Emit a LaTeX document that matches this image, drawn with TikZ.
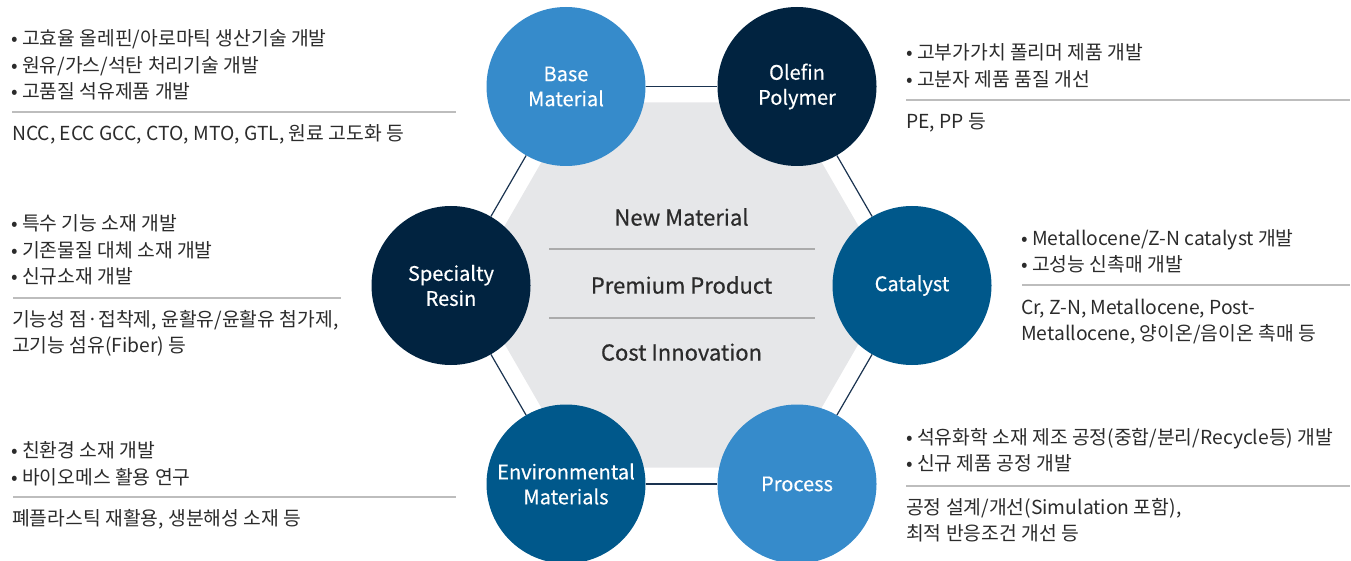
\documentclass[tikz,border=0pt]{standalone}
\usepackage{fontspec}
\setmainfont{Noto Sans CJK KR}
\newfontfamily\medfont[FakeBold=0.6]{Noto Sans CJK KR}
\newfontfamily\circfont[FakeBold=0.4]{Noto Sans CJK KR}
\definecolor{lblue}{HTML}{368BCB}
\definecolor{navy}{HTML}{012340}
\definecolor{mblue}{HTML}{00588B}
\definecolor{hexgray}{HTML}{E6E7E9}
\definecolor{hexline}{HTML}{1A3350}
\definecolor{sepgray}{HTML}{ABABAB}
\definecolor{divgray}{HTML}{BDBDBD}
\definecolor{txt}{HTML}{2B2B2B}
\begin{document}
\begin{tikzpicture}[x=1pt,y=-1pt,
  circ/.style={circle,minimum size=159pt,inner sep=0pt,text=white,align=center,font=\circfont\fontsize{20}{25}\selectfont},
  hexedge/.style={draw=hexline,line width=1.2pt},
  sepline/.style={draw=sepgray,line width=1.5pt},
  divline/.style={draw=divgray,line width=1.2pt},
  side/.style={anchor=west,inner sep=0pt,text=txt,font=\fontsize{19.3}{22}\selectfont,text height=14.4pt,text depth=0pt},
  core/.style={inner sep=0pt,text=txt,font=\medfont\fontsize{22}{25}\selectfont,text height=17.2pt,text depth=0pt}]
\useasboundingbox (0,0) rectangle (1351,561);
% gray hexagon
\fill[hexgray] (892.5,285) -- (787,102.3) -- (576,102.3) -- (470.5,285) -- (576,467.7) -- (787,467.7) -- cycle;
% circles
\node[circ,fill=lblue] (base) at (566,86.5) {Base\\Material};
\node[circ,fill=navy] (olefin) at (797,86.5) {Olefin\\Polymer};
\node[circ,fill=navy] (spec) at (451,285.5) {Specialty\\Resin};
\node[circ,fill=mblue] (cat) at (912,285.5) {Catalyst};
\node[circ,fill=mblue] (env) at (566,484) {Environmental\\Materials};
\node[circ,fill=lblue] (proc) at (797,484) {Process};
% hexagon outline connectors
\draw[hexedge] (base) -- (olefin);
\draw[hexedge] (olefin) -- (cat);
\draw[hexedge] (cat) -- (proc);
\draw[hexedge] (proc) -- (env);
\draw[hexedge] (env) -- (spec);
\draw[hexedge] (spec) -- (base);
% center texts
\node[core] (nm) at (681.5,217) {New Material};
\node[core] (pp) at (681.5,285) {Premium Product};
\node[core] (ci) at (681.5,352) {Cost Innovation};
\draw[sepline] (549,249) -- (815,249);
\draw[sepline] (549,318) -- (815,318);
% block 1
\node[side] (a1) at (11,38) {• 고효율 올레핀/아로마틱 생산기술 개발};
\node[side] (a2) at (11,65) {• 원유/가스/석탄 처리기술 개발};
\node[side] (a3) at (11,91) {• 고품질 석유제품 개발};
\draw[divline] (12,112) -- (456,112);
\node[side] (a4) at (12,133) {NCC, ECC GCC, CTO, MTO, GTL, 원료 고도화 등};
% block 2
\node[side] (b1) at (906,52) {• 고부가가치 폴리머 제품 개발};
\node[side] (b2) at (906,79) {• 고분자 제품 품질 개선};
\draw[divline] (906,100) -- (1350,100);
\node[side] (b3) at (906,121) {PE, PP 등};
% block 3
\node[side] (c1) at (11,223) {• 특수 기능 소재 개발};
\node[side] (c2) at (11,250) {• 기존물질 대체 소재 개발};
\node[side] (c3) at (11,276) {• 신규소재 개발};
\draw[divline] (13,298) -- (341,298);
\node[side] (c4) at (12,319) {기능성 점·접착제, 윤활유/윤활유 첨가제,};
\node[side] (c5) at (12,345) {고기능 섬유(Fiber) 등};
% block 4
\node[side] (d1) at (1021,238) {• Metallocene/Z-N catalyst 개발};
\node[side] (d2) at (1021,264) {• 고성능 신촉매 개발};
\draw[divline] (1022,285) -- (1350,285);
\node[side] (d3) at (1021,307) {Cr, Z-N, Metallocene, Post-};
\node[side] (d4) at (1021,333) {Metallocene, 양이온/음이온 촉매 등};
% block 5
\node[side] (e1) at (11,450) {• 친환경 소재 개발};
\node[side] (e2) at (11,477) {• 바이오메스 활용 연구};
\draw[divline] (13,497) -- (456,497);
\node[side] (e3) at (12,518) {폐플라스틱 재활용, 생분해성 소재 등};
% block 6
\node[side] (f1) at (906,437) {• 석유화학 소재 제조 공정(중합/분리/Recycle등) 개발};
\node[side] (f2) at (906,463) {• 신규 제품 공정 개발};
\draw[divline] (906,486) -- (1350,486);
\node[side] (f3) at (906,507) {공정 설계/개선(Simulation 포함),};
\node[side] (f4) at (906,533) {최적 반응조건 개선 등};
\end{tikzpicture}
\end{document}
